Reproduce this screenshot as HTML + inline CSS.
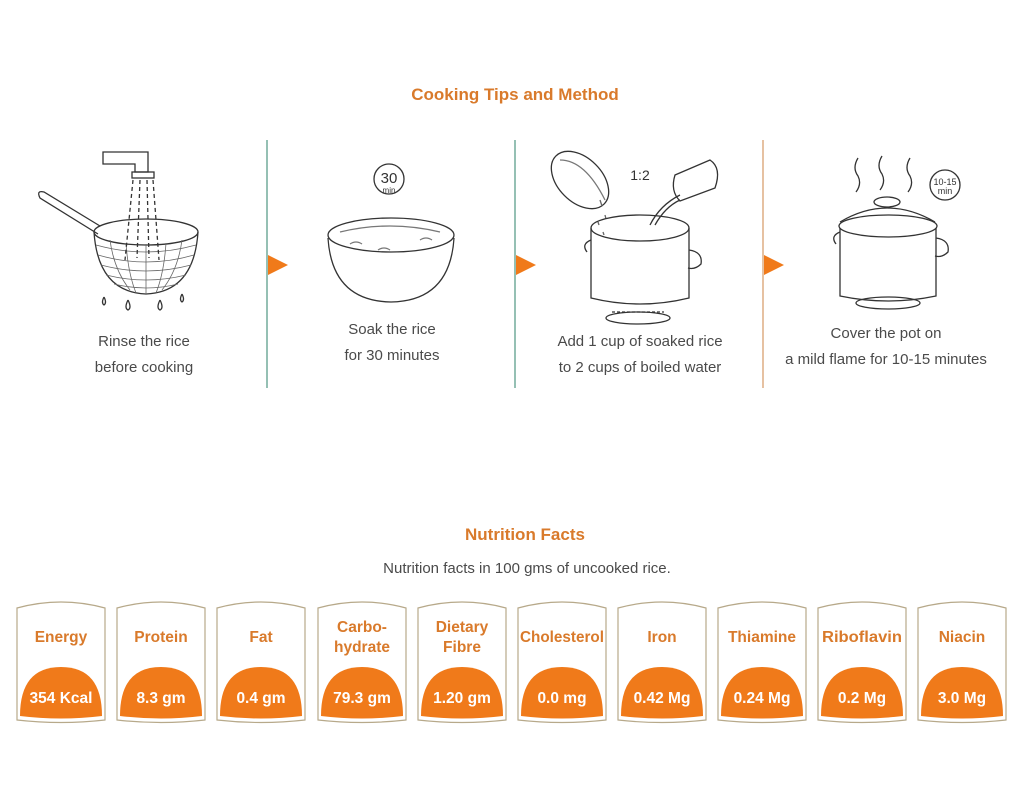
<!DOCTYPE html>
<html><head><meta charset="utf-8"><style>
html,body{margin:0;padding:0;background:#fff;width:1024px;height:812px;overflow:hidden}
svg{display:block}
text{font-family:"Liberation Sans",Arial,sans-serif}
.t{fill:#d97a2b;font-weight:bold;font-size:17px}
.l{fill:#4a4a4a;font-size:15px}
.c{fill:#d97a2b;font-weight:bold;font-size:15.5px}
.v{fill:#fff;font-weight:bold;font-size:15.5px}
.ln{fill:none;stroke:#333;stroke-width:1.3}
</style></head><body>
<svg width="1024" height="812" viewBox="0 0 1024 812">
<text class="t" x="515" y="100" text-anchor="middle">Cooking Tips and Method</text>

<line x1="267" y1="140" x2="267" y2="388" stroke="#5c9e8c" stroke-width="1.3"/>
<line x1="515" y1="140" x2="515" y2="388" stroke="#5c9e8c" stroke-width="1.3"/>
<line x1="763" y1="140" x2="763" y2="388" stroke="#d9a070" stroke-width="1.3"/>
<polygon points="268,255 288,265 268,275" fill="#f07a1a"/>
<polygon points="516,255 536,265 516,275" fill="#f07a1a"/>
<polygon points="764,255 784,265 764,275" fill="#f07a1a"/>

<!-- step 1: strainer -->
<g class="ln">
<path d="M103,152 h45 v20 h-13 v-8 h-32 z"/>
<rect x="132" y="172" width="22" height="6"/>
<path d="M100,226 L44,192 q-8,-2 -4,6 L98,234"/>
<ellipse cx="146" cy="232" rx="52" ry="13"/>
<path d="M94,232 q4,60 52,62 q48,-2 52,-62"/>
<g stroke="#666" stroke-width="0.8">
<path d="M96,245 q50,14 100,0 M98,255 q48,14 96,0 M101,265 q45,12 90,0 M106,275 q40,10 80,0 M114,284 q32,8 64,0"/>
<path d="M110,240 q4,30 20,50 M126,243 q2,30 10,50 M146,244 v50 M166,243 q-2,30 -10,50 M182,240 q-4,30 -20,50"/>
</g>
<path d="M133,180 l-8,80 M140,180 l-3,78 M147,180 l2,78 M153,180 l6,80" stroke-dasharray="4,3"/>
<path d="M104,297 q3,6 0,8 q-3,-2 0,-8 M128,300 q4,8 0,10 q-4,-2 0,-10 M160,300 q4,8 0,10 q-4,-2 0,-10 M182,294 q3,6 0,8 q-3,-2 0,-8"/>
</g>
<text class="l" x="144" y="346" text-anchor="middle">Rinse the rice</text>
<text class="l" x="144" y="372" text-anchor="middle">before cooking</text>

<!-- step 2: bowl -->
<g class="ln">
<circle cx="389" cy="179" r="15"/>
<ellipse cx="391" cy="235" rx="63" ry="17"/>
<path d="M328,238 q4,63 63,64 q59,-1 63,-64"/>
<path d="M340,232 q50,-12 100,0 M350,244 q6,-4 12,0 M378,250 q6,-4 12,0 M420,240 q6,-4 12,0" stroke="#777"/>
</g>
<text x="389" y="183" font-size="15" text-anchor="middle" fill="#333">30</text>
<text x="389" y="193" font-size="8" text-anchor="middle" fill="#333">min</text>
<text class="l" x="392" y="334" text-anchor="middle">Soak the rice</text>
<text class="l" x="392" y="360" text-anchor="middle">for 30 minutes</text>

<!-- step 3 -->
<g class="ln">
<ellipse cx="580" cy="180" rx="22" ry="34" transform="rotate(-45 580 180)"/>
<path d="M560,160 q25,0 45,40" stroke="#777"/>
<path d="M600,200 l2,6 M605,215 l1,4 M598,222 l1,3 M603,232 l1,3" stroke="#666"/>
<path d="M675,175 l35,-15 q12,8 5,28 l-35,13 q-10,-10 -5,-26 z"/>
<ellipse cx="640" cy="228" rx="49" ry="13"/>
<path d="M591,228 v70 q49,12 98,0 v-70"/>
<path d="M591,240 q-10,4 -4,12 M689,250 q14,2 12,14 q-6,6 -13,4"/>
<ellipse cx="638" cy="318" rx="32" ry="6"/>
<path d="M612,312 h52" stroke-dasharray="3,2"/>
<path d="M650,225 q10,-20 30,-30 M655,225 q10,-18 25,-25"/>
</g>
<text x="640" y="180" font-size="14" text-anchor="middle" fill="#333">1:2</text>
<text class="l" x="640" y="346" text-anchor="middle">Add 1 cup of soaked rice</text>
<text class="l" x="640" y="372" text-anchor="middle">to 2 cups of boiled water</text>

<!-- step 4 -->
<g class="ln">
<path d="M858,158 q-6,10 0,18 q4,8 -2,16 M882,156 q-6,10 0,18 q4,8 -2,16 M910,158 q-6,10 0,18 q4,8 -2,16"/>
<circle cx="945" cy="185" r="15"/>
<ellipse cx="887" cy="202" rx="13" ry="5"/>
<path d="M840,222 q47,-28 95,0"/>
<ellipse cx="888" cy="226" rx="49" ry="11"/>
<path d="M840,228 v68 q48,10 96,0 v-68"/>
<path d="M840,232 q-10,4 -4,12 M936,238 q14,2 12,14 q-6,6 -13,4"/>
<ellipse cx="888" cy="303" rx="32" ry="6"/>
</g>
<text x="945" y="185" font-size="9" text-anchor="middle" fill="#333">10-15</text>
<text x="945" y="194" font-size="9" text-anchor="middle" fill="#333">min</text>
<text class="l" x="886" y="338" text-anchor="middle">Cover the pot on</text>
<text class="l" x="886" y="364" text-anchor="middle">a mild flame for 10-15 minutes</text>

<text class="t" x="525" y="540" text-anchor="middle">Nutrition Facts</text>
<text class="l" x="527" y="573" text-anchor="middle">Nutrition facts in 100 gms of uncooked rice.</text>

<defs>
<g id="card">
<path d="M1,8 q44,-12 88,0 v112 q-44,5 -88,0 z" fill="#fff" stroke="#b7a98a" stroke-width="1.2"/>
<path d="M4,116 q0,-49 41,-49 q41,0 41,49 q-41,5 -82,0 z" fill="#f07a1a"/>
</g>
</defs>
<g transform="translate(16,600)"><use href="#card"/><text class="c" x="45" y="42" text-anchor="middle">Energy</text><text class="v" x="45" y="103" text-anchor="middle">354 Kcal</text></g>
<g transform="translate(116,600)"><use href="#card"/><text class="c" x="45" y="42" text-anchor="middle">Protein</text><text class="v" x="45" y="103" text-anchor="middle">8.3 gm</text></g>
<g transform="translate(216,600)"><use href="#card"/><text class="c" x="45" y="42" text-anchor="middle">Fat</text><text class="v" x="45" y="103" text-anchor="middle">0.4 gm</text></g>
<g transform="translate(317,600)"><use href="#card"/><text class="c" x="45" y="32" text-anchor="middle">Carbo-</text><text class="c" x="45" y="52" text-anchor="middle">hydrate</text><text class="v" x="45" y="103" text-anchor="middle">79.3 gm</text></g>
<g transform="translate(417,600)"><use href="#card"/><text class="c" x="45" y="32" text-anchor="middle">Dietary</text><text class="c" x="45" y="52" text-anchor="middle">Fibre</text><text class="v" x="45" y="103" text-anchor="middle">1.20 gm</text></g>
<g transform="translate(517,600)"><use href="#card"/><text class="c" x="45" y="42" text-anchor="middle" textLength="84" lengthAdjust="spacingAndGlyphs">Cholesterol</text><text class="v" x="45" y="103" text-anchor="middle">0.0 mg</text></g>
<g transform="translate(617,600)"><use href="#card"/><text class="c" x="45" y="42" text-anchor="middle">Iron</text><text class="v" x="45" y="103" text-anchor="middle">0.42 Mg</text></g>
<g transform="translate(717,600)"><use href="#card"/><text class="c" x="45" y="42" text-anchor="middle">Thiamine</text><text class="v" x="45" y="103" text-anchor="middle">0.24 Mg</text></g>
<g transform="translate(817,600)"><use href="#card"/><text class="c" x="45" y="42" text-anchor="middle" textLength="80" lengthAdjust="spacingAndGlyphs">Riboflavin</text><text class="v" x="45" y="103" text-anchor="middle">0.2 Mg</text></g>
<g transform="translate(917,600)"><use href="#card"/><text class="c" x="45" y="42" text-anchor="middle">Niacin</text><text class="v" x="45" y="103" text-anchor="middle">3.0 Mg</text></g>
</svg>
</body></html>
